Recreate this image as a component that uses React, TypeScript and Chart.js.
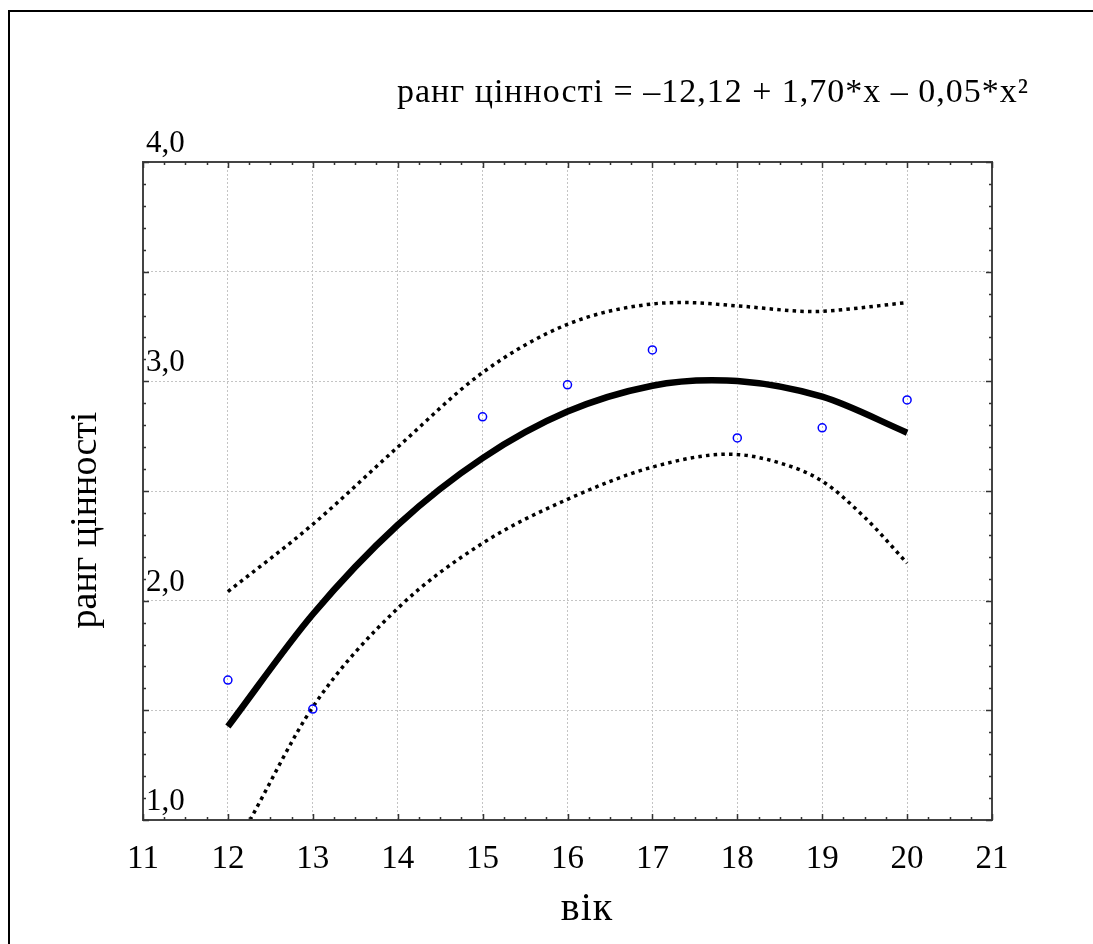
import React, { useEffect, useRef } from "react";
import { Chart, registerables } from "chart.js";

Chart.register(...registerables);

// Observed data points (age, value rank)
const ages = [12, 13, 15, 16, 17, 18, 19, 20];
const ranks = [1.638, 1.506, 2.838, 2.984, 3.143, 2.742, 2.788, 2.915];

// Fitted curve
const fitX = [12, 13, 14, 15, 16, 17, 17.7, 18, 19, 20];
const fitY = [1.426, 1.938, 2.345, 2.65, 2.862, 2.98, 3.005, 3.002, 2.93, 2.766];

// Upper confidence band
const upperX = [12, 13, 14, 15, 16, 17, 17.4, 18, 18.9, 19, 20];
const upperY = [2.041, 2.348, 2.7, 3.04, 3.26, 3.353, 3.359, 3.344, 3.318, 3.319, 3.359];

// Lower confidence band
const lowerX = [12.26, 13, 14, 15, 16, 17, 17.9, 18.5, 19, 19.5, 20];
const lowerY = [1.0, 1.515, 1.965, 2.262, 2.462, 2.609, 2.668, 2.628, 2.545, 2.38, 2.171];

// Axis ticks
const xTickValues = [11, 12, 13, 14, 15, 16, 17, 18, 19, 20, 21];
const xTickLabels = ["11", "12", "13", "14", "15", "16", "17", "18", "19", "20", "21"];
const yTickValues = [1, 2, 3, 4];
const yTickLabels = ["1,0", "2,0", "3,0", "4,0"];

const xTitle = "вік";
const yTitle = "ранг цінності";
const equation = "ранг цінності = –12,12 + 1,70*x – 0,05*x²";

const FONT = "'Liberation Serif', 'Times New Roman', serif";

const toPoints = (xs: number[], ys: number[]) => xs.map((x, i) => ({ x, y: ys[i] }));

const overlay = {
  id: "overlay",
  beforeDraw(chart: any) {
    const ctx = chart.ctx;
    ctx.save();
    ctx.fillStyle = "#fff";
    ctx.fillRect(0, 0, chart.width, chart.height);
    ctx.fillStyle = "#000";
    ctx.fillRect(8, 10, 2, chart.height);
    ctx.fillRect(8, 10, chart.width, 2);
    ctx.restore();
  },
  afterDraw(chart: any) {
    const { ctx, chartArea } = chart;
    const { left, top, right, bottom } = chartArea;
    const xs = chart.scales.x;
    const ys = chart.scales.y;
    ctx.save();
    // frame
    ctx.strokeStyle = "#444";
    ctx.lineWidth = 2;
    ctx.strokeRect(left, top, right - left, bottom - top);
    // ticks
    ctx.lineWidth = 1.5;
    ctx.strokeStyle = "#333";
    ctx.beginPath();
    for (let i = 0; i <= 40; i++) {
      const v = 11 + i * 0.25;
      const px = Math.round(xs.getPixelForValue(v)) + 0.5;
      const len = i % 4 === 0 ? 6 : 3;
      ctx.moveTo(px, bottom);
      ctx.lineTo(px, bottom - len);
      ctx.moveTo(px, top);
      ctx.lineTo(px, top + len);
    }
    for (let i = 0; i <= 30; i++) {
      const v = 1 + i * 0.1;
      const py = Math.round(ys.getPixelForValue(v)) + 0.5;
      const len = i % 5 === 0 ? 6 : 3;
      ctx.moveTo(left, py);
      ctx.lineTo(left + len, py);
      ctx.moveTo(right, py);
      ctx.lineTo(right - len, py);
    }
    ctx.stroke();

    ctx.fillStyle = "#000";
    ctx.font = `33px ${FONT}`;
    ctx.textBaseline = "alphabetic";
    ctx.textAlign = "center";
    xTickValues.forEach((v, i) => {
      ctx.fillText(xTickLabels[i], xs.getPixelForValue(v), 868);
    });
    ctx.font = `31px ${FONT}`;
    ctx.textAlign = "left";
    yTickValues.forEach((v, i) => {
      ctx.fillText(yTickLabels[i], left + 3, ys.getPixelForValue(v) - 10);
    });

    // x title
    ctx.font = `40px ${FONT}`;
    ctx.textAlign = "center";
    (ctx as any).letterSpacing = "1px";
    ctx.fillText(xTitle, 587, 920);

    // y title
    ctx.save();
    ctx.translate(96, 520);
    ctx.rotate(-Math.PI / 2);
    ctx.textAlign = "center";
    (ctx as any).letterSpacing = "0px";
    ctx.font = `38px ${FONT}`;
    ctx.fillText(yTitle, 0, 0);
    ctx.restore();

    // equation
    ctx.font = `34px ${FONT}`;
    (ctx as any).letterSpacing = "1px";
    ctx.textAlign = "left";
    ctx.fillText(equation, 397, 102);
    ctx.restore();
  },
};

export default function App() {
  const ref = useRef<HTMLCanvasElement>(null);
  useEffect(() => {
    if (!ref.current) return;
    const chart = new Chart(ref.current, {
      type: "scatter",
      data: {
        datasets: [
          {
            label: "points",
            data: toPoints(ages, ranks),
            showLine: false,
            pointStyle: "circle",
            pointRadius: 4,
            pointBorderWidth: 1.5,
            pointBorderColor: "#0000ff",
            pointBackgroundColor: "rgba(255,255,255,0)",
          },
          {
            label: "fit",
            data: toPoints(fitX, fitY),
            showLine: true,
            borderColor: "#000",
            borderWidth: 6.5,
            pointRadius: 0,
            cubicInterpolationMode: "monotone",
            borderCapStyle: "butt",
          },
          {
            label: "upper",
            data: toPoints(upperX, upperY),
            showLine: true,
            borderColor: "#000",
            borderWidth: 3.5,
            borderDash: [3.5, 4.2],
            pointRadius: 0,
            cubicInterpolationMode: "monotone",
          },
          {
            label: "lower",
            data: toPoints(lowerX, lowerY),
            showLine: true,
            borderColor: "#000",
            borderWidth: 3.5,
            borderDash: [3.5, 4.2],
            pointRadius: 0,
            cubicInterpolationMode: "monotone",
          },
        ],
      },
      options: {
        responsive: false,
        animation: false,
        events: [],
        layout: { padding: { left: 143, top: 162, right: 1093 - 992, bottom: 944 - 820 } },
        plugins: { legend: { display: false }, tooltip: { enabled: false } },
        scales: {
          x: {
            type: "linear",
            min: 11,
            max: 21,
            ticks: { display: false, stepSize: 1 },
            grid: { color: "#c4c4c4", lineWidth: 1, drawTicks: false },
            border: { display: false, dash: [2, 2] },
          },
          y: {
            type: "linear",
            min: 1,
            max: 4,
            ticks: { display: false, stepSize: 0.5 },
            grid: { color: "#c4c4c4", lineWidth: 1, drawTicks: false },
            border: { display: false, dash: [2, 2] },
          },
        },
      },
      plugins: [overlay],
    });
    return () => chart.destroy();
  }, []);
  return (
    <div style={{ position: "fixed", left: 0, top: 0, width: 1093, height: 944 }}>
      <canvas ref={ref} width={1093} height={944} style={{ display: "block" }} />
    </div>
  );
}
